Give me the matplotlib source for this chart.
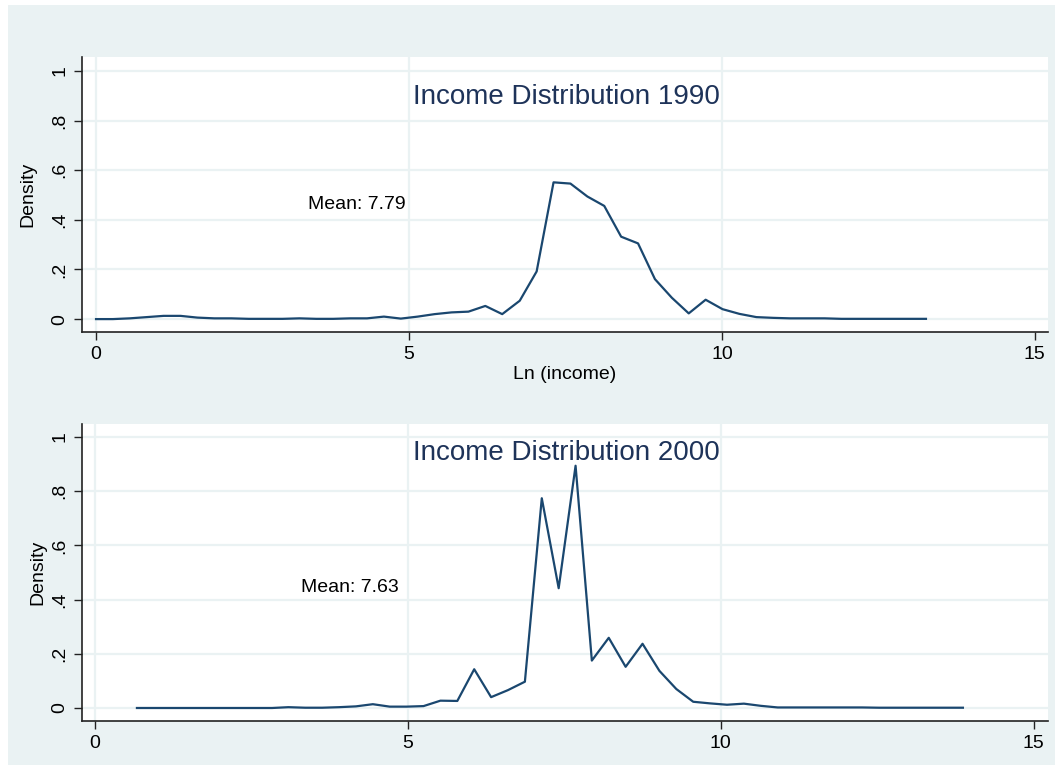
import matplotlib.pyplot as plt
from matplotlib.patches import Rectangle

# bin midpoints and densities
x_1990 = [0.00, 0.27, 0.54, 0.81, 1.08, 1.35, 1.62, 1.89, 2.16, 2.44,
          2.71, 2.98, 3.25, 3.52, 3.79, 4.06, 4.33, 4.60, 4.87, 5.14,
          5.41, 5.68, 5.95, 6.22, 6.49, 6.77, 7.04, 7.31, 7.58, 7.85,
          8.12, 8.39, 8.66, 8.93, 9.20, 9.47, 9.74, 10.01, 10.28, 10.55,
          10.82, 11.09, 11.37, 11.64, 11.91, 12.18, 12.45, 12.72, 12.99, 13.26]
dens_1990 = [0.000, 0.000, 0.003, 0.008, 0.013, 0.013, 0.006, 0.003, 0.003, 0.001,
             0.001, 0.001, 0.003, 0.001, 0.001, 0.003, 0.003, 0.010, 0.002, 0.010,
             0.020, 0.027, 0.030, 0.053, 0.020, 0.074, 0.192, 0.551, 0.546, 0.494,
             0.456, 0.332, 0.305, 0.161, 0.086, 0.023, 0.078, 0.040, 0.021, 0.008,
             0.005, 0.003, 0.003, 0.003, 0.001, 0.001, 0.001, 0.001, 0.001, 0.001]

x_2000 = [0.67, 0.94, 1.21, 1.48, 1.75, 2.02, 2.29, 2.56, 2.83, 3.09,
          3.36, 3.63, 3.90, 4.17, 4.44, 4.71, 4.98, 5.25, 5.52, 5.79,
          6.06, 6.33, 6.60, 6.87, 7.14, 7.41, 7.68, 7.94, 8.21, 8.48,
          8.75, 9.02, 9.29, 9.56, 9.83, 10.10, 10.37, 10.64, 10.91, 11.18,
          11.45, 11.72, 11.99, 12.26, 12.53, 12.80, 13.07, 13.34, 13.60, 13.87]
dens_2000 = [0.000, 0.000, 0.000, 0.000, 0.000, 0.000, 0.000, 0.000, 0.000, 0.003,
             0.001, 0.001, 0.003, 0.006, 0.014, 0.005, 0.005, 0.007, 0.027, 0.026,
             0.143, 0.040, 0.066, 0.097, 0.774, 0.442, 0.894, 0.175, 0.259, 0.152,
             0.237, 0.137, 0.070, 0.023, 0.017, 0.012, 0.016, 0.008, 0.002, 0.002,
             0.002, 0.002, 0.002, 0.002, 0.001, 0.001, 0.001, 0.001, 0.001, 0.001]

panels = [
    {'x': x_1990, 'y': dens_1990, 'title': 'Income Distribution 1990',
     'mean': 'Mean: 7.79', 'xlabel': 'Ln (income)'},
    {'x': x_2000, 'y': dens_2000, 'title': 'Income Distribution 2000',
     'mean': 'Mean: 7.63', 'xlabel': None},
]

y_ticks = [0, 0.2, 0.4, 0.6, 0.8, 1]
y_ticklabels = ['0', '.2', '.4', '.6', '.8', '1']
x_ticks = [0, 5, 10, 15]

BG = '#EAF2F3'
LINE = '#1A476F'
TITLE = '#1E3359'

plt.rcParams['font.family'] = ['Liberation Sans', 'DejaVu Sans']

W, H = 1055, 770
fig = plt.figure(figsize=(W / 100, H / 100), dpi=100)
fig.patch.set_facecolor('white')
fig.patches.append(Rectangle((8 / W, 5 / H), 1 - 8 / W, 1 - 10 / H,
                             transform=fig.transFigure, facecolor=BG,
                             edgecolor='none', zorder=-10))

# axes boxes in pixels: left, top, right, bottom ; data limits
boxes = [((82, 57, 1048, 332), (-0.224, 15.21), (-0.052, 1.056), (4.94, 0.46), (7.52, 0.895), 28),
         ((82, 424, 1048, 721), (-0.208, 15.23), (-0.048, 1.048), (4.86, 0.446), (7.54, 0.94), 38)]

for p, (box, xl, yl, mean_pos, title_pos, ylab_x) in zip(panels, boxes):
    l, t, r, b = box
    ax = fig.add_axes([l / W, 1 - b / H, (r - l) / W, (b - t) / H])
    ax.set_zorder(1)
    ax.set_facecolor('white')
    ax.plot(p['x'], p['y'], color=LINE, lw=1.6, zorder=3)
    ax.set_xlim(*xl)
    ax.set_ylim(*yl)
    ax.set_xticks(x_ticks)
    ax.set_yticks(y_ticks)
    ax.set_yticklabels(y_ticklabels, rotation=90, va='center')
    ax.tick_params(axis='both', labelsize=14, direction='out', length=6,
                   width=1, color='#222222', pad=4)
    ax.grid(True, color=BG, lw=1.6, zorder=1)
    ax.xaxis.get_gridlines()[-1].set_visible(False)
    for side in ['top', 'right']:
        ax.spines[side].set_visible(False)
    for side in ['left', 'bottom']:
        ax.spines[side].set_color('#222222')
        ax.spines[side].set_linewidth(1.2)
    ax.text(title_pos[0], title_pos[1], p['title'], fontsize=20, color=TITLE,
            ha='center', va='center')
    ax.text(mean_pos[0], mean_pos[1], p['mean'], fontsize=14, color='black',
            ha='right', va='center')
    fig.text(ylab_x / W, 1 - (t + b) / 2 / H, 'Density', rotation=90,
             fontsize=14, ha='center', va='center')
    if p['xlabel']:
        ax.set_xlabel(p['xlabel'], fontsize=14, labelpad=2)

fig.savefig('out.png', dpi=100, facecolor=fig.get_facecolor())
